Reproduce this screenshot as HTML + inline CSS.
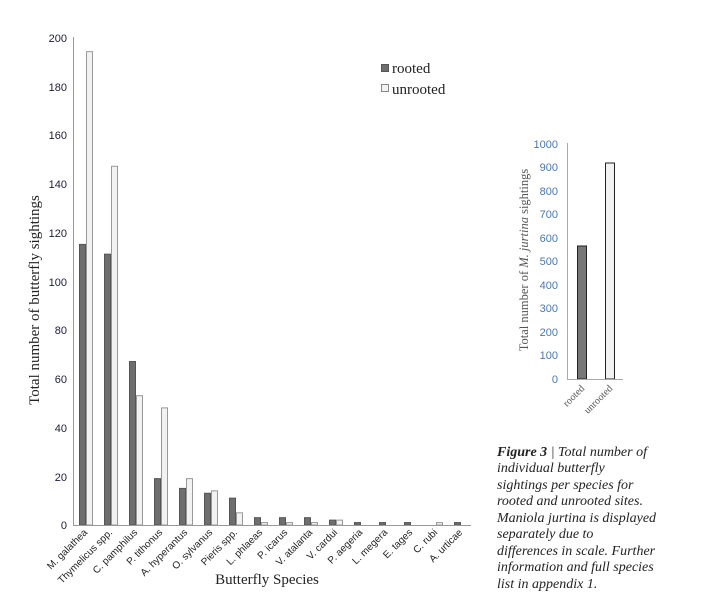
<!DOCTYPE html>
<html><head><meta charset="utf-8"><style>
html,body{margin:0;padding:0;background:#fff;width:707px;height:616px;overflow:hidden}
svg{display:block}
</style></head><body>
<svg width="707" height="616" xmlns="http://www.w3.org/2000/svg">
<g font-family="Liberation Sans, sans-serif" font-size="11" fill="#1c1c3a" text-anchor="end">
<text x="67" y="529">0</text><text x="67" y="481">20</text><text x="67" y="432">40</text>
<text x="67" y="383">60</text><text x="67" y="334">80</text><text x="67" y="286">100</text>
<text x="67" y="237">120</text><text x="67" y="188">140</text><text x="67" y="139">160</text>
<text x="67" y="91">180</text><text x="67" y="42">200</text>
</g>
<g id="bars" stroke-width="1"></g>
<line x1="73.5" y1="37" x2="73.5" y2="525" stroke="#999" stroke-width="1"/>
<line x1="73" y1="525.5" x2="471" y2="525.5" stroke="#999" stroke-width="1"/>
<g id="labels" font-family="Liberation Sans, sans-serif" font-size="10" fill="#222" text-anchor="end"></g>
<text transform="translate(39,300) rotate(-90)" text-anchor="middle" font-family="Liberation Serif, serif" font-size="15" fill="#222">Total number of  butterfly sightings</text>
<text x="267" y="584" text-anchor="middle" font-family="Liberation Serif, serif" font-size="15" fill="#222">Butterfly Species</text>
<rect x="381.5" y="64.5" width="7" height="7" fill="#6e6e6e" stroke="#555"/>
<text x="392" y="73" font-family="Liberation Serif, serif" font-size="15" fill="#222">rooted</text>
<rect x="381.5" y="84.5" width="7" height="7" fill="#f2f2f2" stroke="#888"/>
<text x="392" y="94" font-family="Liberation Serif, serif" font-size="15" fill="#222">unrooted</text>

<g font-family="Liberation Sans, sans-serif" font-size="11" fill="#4a78b0" text-anchor="end">
<text x="558" y="383">0</text><text x="558" y="359">100</text><text x="558" y="336">200</text>
<text x="558" y="312">300</text><text x="558" y="289">400</text><text x="558" y="265">500</text>
<text x="558" y="242">600</text><text x="558" y="218">700</text><text x="558" y="195">800</text>
<text x="558" y="171">900</text><text x="558" y="148">1000</text>
</g>
<rect x="577.5" y="246" width="9" height="133" fill="#777" stroke="#222"/>
<rect x="605.5" y="163" width="9" height="216" fill="#f2f2f2" stroke="#222"/>
<line x1="567.5" y1="143" x2="567.5" y2="379" stroke="#aaa"/>
<line x1="567" y1="379.5" x2="623" y2="379.5" stroke="#aaa"/>
<g font-family="Liberation Serif, serif" font-size="10" fill="#555" text-anchor="end">
<text transform="translate(585,389) rotate(-45)">rooted</text>
<text transform="translate(613,389) rotate(-45)">unrooted</text>
</g>
<text transform="translate(528,260) rotate(-90)" text-anchor="middle" font-family="Liberation Serif, serif" font-size="12.5" fill="#555">Total number of <tspan font-style="italic">M. jurtina</tspan> sightings</text>

<g font-family="Liberation Serif, serif" font-size="14" font-style="italic" fill="#222">
<text x="497" y="456"><tspan font-weight="bold">Figure 3</tspan> | Total number of</text>
<text x="497" y="472">individual butterfly</text>
<text x="497" y="489">sightings per species for</text>
<text x="497" y="505">rooted and unrooted sites.</text>
<text x="497" y="522">Maniola jurtina is displayed</text>
<text x="497" y="538">separately due to</text>
<text x="497" y="555">differences in scale. Further</text>
<text x="497" y="571">information and full species</text>
<text x="497" y="588">list in appendix 1.</text>
</g>
<script>
var names=["M. galathea","Thymelicus spp.","C. pamphilus","P. tithonus","A. hyperantus","O. sylvanus","Pieris spp.","L. phlaeas","P. icarus","V. atalanta","V. cardui","P. aegeria","L. megera","E. tages","C. rubi","A. urticae"];
var r=[115,111,67,19,15,13,11,3,3,3,2,1,1,1,0,1];
var u=[194,147,53,48,19,14,5,1,1,1,2,0,0,0,1,0];
var ns="http://www.w3.org/2000/svg",b=document.getElementById("bars"),l=document.getElementById("labels");
function rect(x,v,f,s){if(!v)return;var h=v*2.44,e=document.createElementNS(ns,"rect");e.setAttribute("x",x+0.5);e.setAttribute("y",525-h);e.setAttribute("width",6);e.setAttribute("height",h);e.setAttribute("fill",f);e.setAttribute("stroke",s);b.appendChild(e);}
for(var i=0;i<16;i++){var x=79+25*i;rect(x,r[i],"#6e6e6e","#555");rect(x+7,u[i],"#f2f2f2","#999");
var t=document.createElementNS(ns,"text");t.setAttribute("transform","translate("+(x+9)+",533) rotate(-45)");t.textContent=names[i];l.appendChild(t);}
</script>
</svg>
</body></html>
